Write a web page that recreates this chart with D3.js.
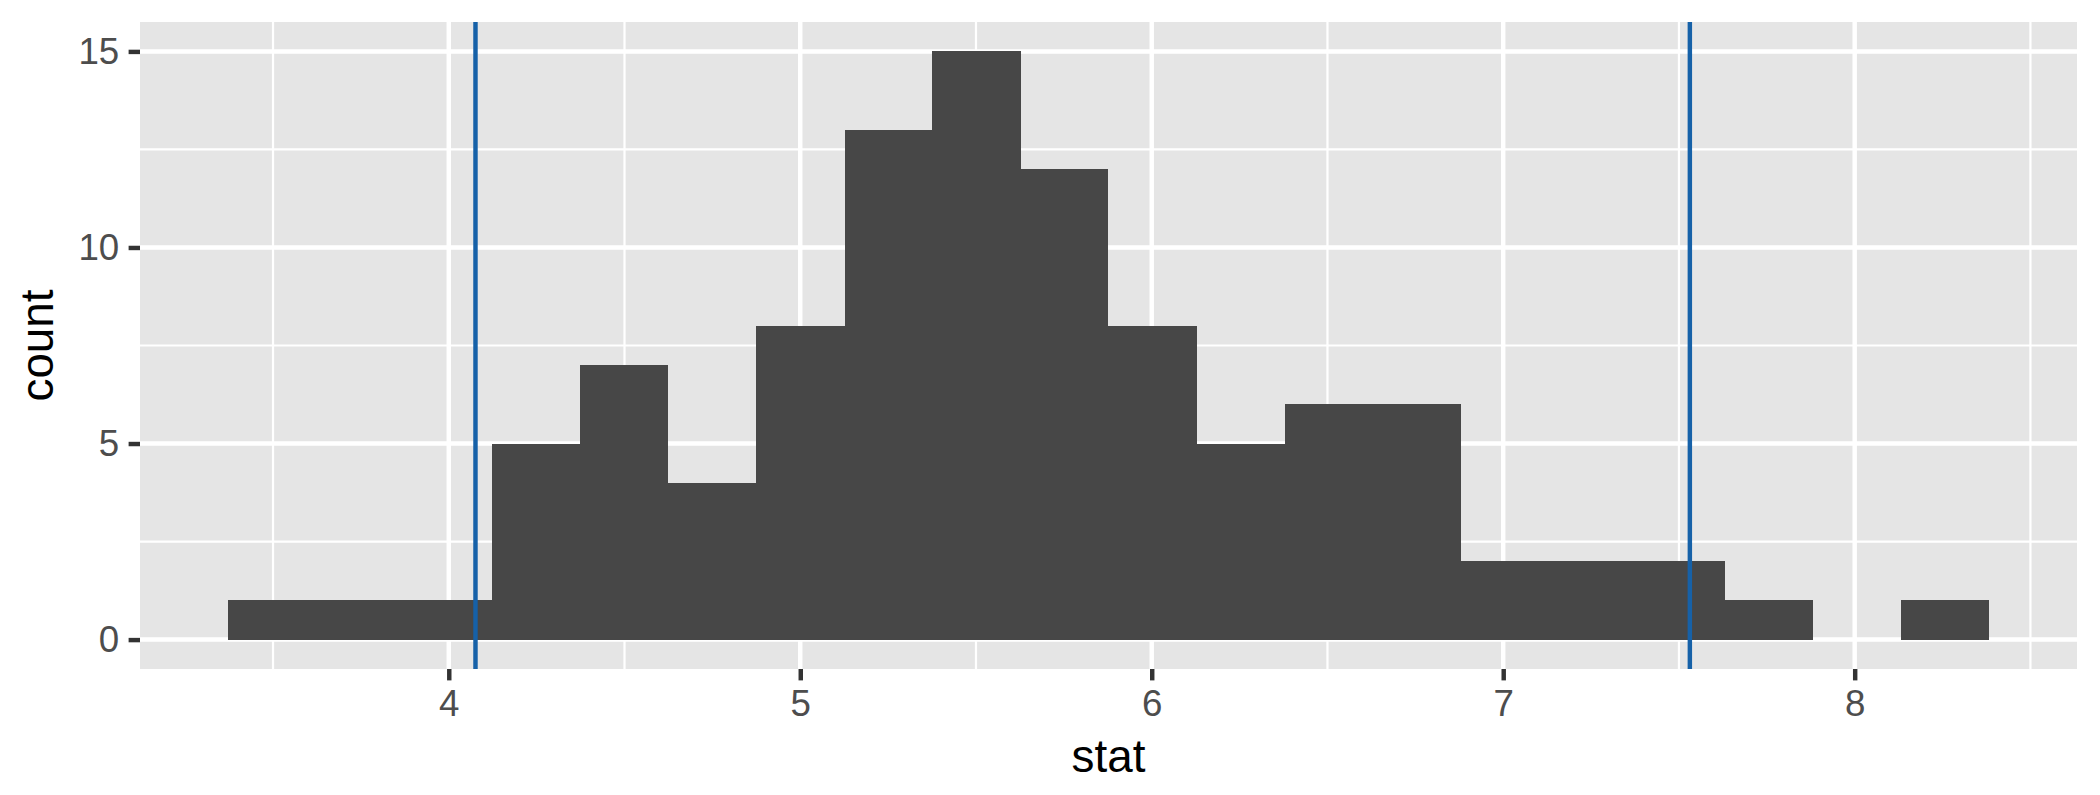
<!DOCTYPE html>
<html>
<head>
<meta charset="utf-8">
<script src="https://cdn.jsdelivr.net/npm/d3@7"></script>
<style>
  html, body { margin: 0; padding: 0; background: #ffffff; }
  svg { display: block; }
  text { font-family: "Liberation Sans", Arial, Helvetica, sans-serif; }
</style>
</head>
<body>
<svg id="chart" width="2100" height="795"></svg>
<script>
// ---- data ----
const binLeft  = [3.372, 3.623, 3.873, 4.124, 4.374, 4.625, 4.875, 5.126, 5.376, 5.627,
                  5.877, 6.128, 6.378, 6.629, 6.879, 7.130, 7.380, 7.631, 7.881, 8.132];
const binRight = [3.623, 3.873, 4.124, 4.374, 4.625, 4.875, 5.126, 5.376, 5.627, 5.877,
                  6.128, 6.378, 6.629, 6.879, 7.130, 7.380, 7.631, 7.881, 8.132, 8.382];
const counts   = [1, 1, 1, 5, 7, 4, 8, 13, 15, 12, 8, 5, 6, 6, 2, 2, 2, 1, 0, 1];
const vlines   = [4.076, 7.531];
const xTicks   = [4, 5, 6, 7, 8];
const xMinor   = [3.5, 4.5, 5.5, 6.5, 7.5, 8.5];
const yTicks   = [0, 5, 10, 15];
const yMinor   = [2.5, 7.5, 12.5];
const xTitle   = "stat";
const yTitle   = "count";

// ---- layout ----
const panel = { left: 140, right: 2077, top: 22, bottom: 669 };
const lw = 4.45;         // ggplot 0.5 linewidth at 300 dpi
const tickLen = 11.4;
const tickPad = 9.4;

const xMinData = d3.min(binLeft), xMaxData = d3.max(binRight);
const xExp = (xMaxData - xMinData) * 0.05;
const yMaxData = d3.max(counts);
const yExp = yMaxData * 0.05;

const x = d3.scaleLinear().domain([xMinData - xExp, xMaxData + xExp]).range([panel.left, panel.right]);
const y = d3.scaleLinear().domain([0 - yExp, yMaxData + yExp]).range([panel.bottom, panel.top]);

const svg = d3.select("#chart");

// panel background
svg.append("rect")
  .attr("x", panel.left).attr("y", panel.top)
  .attr("width", panel.right - panel.left).attr("height", panel.bottom - panel.top)
  .attr("fill", "#E5E5E5");

const grid = svg.append("g");
// minor grid
grid.selectAll("line.xminor").data(xMinor).join("line")
  .attr("x1", d => x(d)).attr("x2", d => x(d))
  .attr("y1", panel.top).attr("y2", panel.bottom)
  .attr("stroke", "#fff").attr("stroke-width", lw / 2);
grid.selectAll("line.yminor").data(yMinor).join("line")
  .attr("y1", d => y(d)).attr("y2", d => y(d))
  .attr("x1", panel.left).attr("x2", panel.right)
  .attr("stroke", "#fff").attr("stroke-width", lw / 2);
// major grid
grid.selectAll("line.xmajor").data(xTicks).join("line")
  .attr("x1", d => x(d)).attr("x2", d => x(d))
  .attr("y1", panel.top).attr("y2", panel.bottom)
  .attr("stroke", "#fff").attr("stroke-width", lw);
grid.selectAll("line.ymajor").data(yTicks).join("line")
  .attr("y1", d => y(d)).attr("y2", d => y(d))
  .attr("x1", panel.left).attr("x2", panel.right)
  .attr("stroke", "#fff").attr("stroke-width", lw);

// bars (rounded edges so adjacent bars meet without seams)
const bins = counts.map((c, i) => ({ x0: binLeft[i], x1: binRight[i], n: c }));
svg.append("g").attr("shape-rendering", "crispEdges")
  .selectAll("rect").data(bins.filter(d => d.n > 0)).join("rect")
  .attr("x", d => Math.round(x(d.x0)))
  .attr("width", d => Math.round(x(d.x1)) - Math.round(x(d.x0)))
  .attr("y", d => Math.round(y(d.n)))
  .attr("height", d => Math.round(y(0)) - Math.round(y(d.n)))
  .attr("fill", "#474747");

// vertical lines
svg.append("g").selectAll("line").data(vlines).join("line")
  .attr("x1", d => x(d)).attr("x2", d => x(d))
  .attr("y1", panel.top).attr("y2", panel.bottom)
  .attr("stroke", "#1661A8").attr("stroke-width", lw);

// axes
const xAxis = d3.axisBottom(x).tickValues(xTicks).tickFormat(d3.format("d"))
  .tickSize(tickLen).tickPadding(tickPad);
const yAxis = d3.axisLeft(y).tickValues(yTicks).tickFormat(d3.format("d"))
  .tickSize(tickLen).tickPadding(tickPad);

const gx = svg.append("g").attr("transform", `translate(0,${panel.bottom})`).call(xAxis);
const gy = svg.append("g").attr("transform", `translate(${panel.left},0)`).call(yAxis);
[gx, gy].forEach(g => {
  g.select(".domain").remove();
  g.selectAll(".tick line").attr("stroke", "#333333").attr("stroke-width", lw);
  g.selectAll(".tick text")
    .attr("fill", "#4D4D4D")
    .style("font-size", "36.7px")
    .style("font-family", '"Liberation Sans", Arial, Helvetica, sans-serif');
});

// axis titles
svg.append("text")
  .attr("x", (panel.left + panel.right) / 2).attr("y", 772)
  .attr("text-anchor", "middle")
  .style("font-size", "45.8px").attr("fill", "#000")
  .text(xTitle);
svg.append("text")
  .attr("transform", `translate(53,${(panel.top + panel.bottom) / 2}) rotate(-90)`)
  .attr("text-anchor", "middle")
  .style("font-size", "45.8px").attr("fill", "#000")
  .text(yTitle);
</script>
</body>
</html>
